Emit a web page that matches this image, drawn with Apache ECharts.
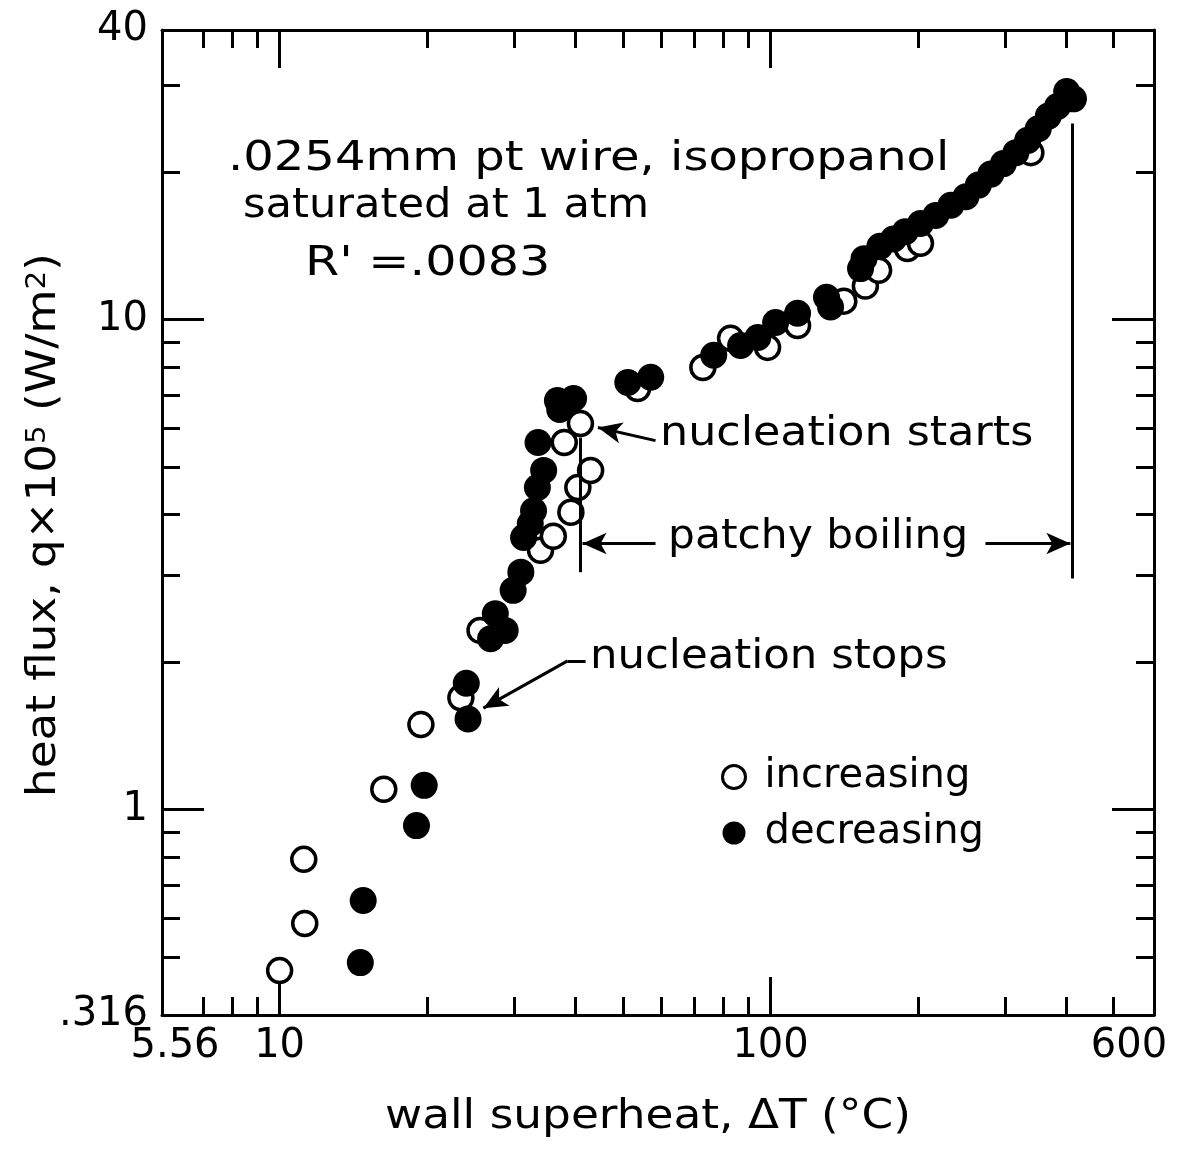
<!DOCTYPE html>
<html lang="en">
<head>
<meta charset="UTF-8">
<title>heat flux vs wall superheat</title>
<script src="https://cdn.jsdelivr.net/npm/echarts@6/dist/echarts.min.js"></script>
<style>html,body{margin:0;background:#fff;}</style>
</head>
<body>
<div id="main" style="width:1188px;height:1150px;"></div>
<script>
    // increasing heat flux (open circles)
    var xInc = [10.0, 11.25, 11.2, 16.3, 19.4, 23.4, 25.6, 34.0, 36.1, 39.2, 40.5, 43.0, 38.0, 41.0,
                53.6, 72.8, 82.9, 98.6, 113.5, 141, 156, 166, 190, 202, 339];
    var yInc = [0.469, 0.585, 0.791, 1.10, 1.49, 1.69, 2.32, 3.38, 3.61, 4.04, 4.54, 4.92, 5.61, 6.13,
                7.23, 7.98, 9.15, 8.77, 9.72, 10.9, 11.7, 12.6, 13.96, 14.3, 21.9];
    // decreasing heat flux (filled circles)
    var xDec = [14.6, 14.8, 19.0, 19.7, 24.2, 24.0, 26.9, 27.5, 28.8, 29.9, 31.0, 31.4, 32.4, 32.9,
                33.5, 34.5, 33.6, 36.8, 37.2, 39.7, 51.2, 57.0, 76.6, 86.9, 94.2, 102.4, 113.5, 130,
                132.5, 152.5, 155, 167, 178, 188, 202, 217, 233, 250, 265, 281, 298, 316, 334, 351,
                368, 384, 401, 414];
    var yDec = [0.487, 0.652, 0.927, 1.12, 1.53, 1.81, 2.23, 2.51, 2.32, 2.80, 3.05, 3.59, 3.83, 4.07,
                4.54, 4.92, 5.61, 6.83, 6.55, 6.90, 7.44, 7.62, 8.45, 8.85, 9.19, 9.86, 10.3, 11.1,
                10.6, 12.7, 13.3, 14.1, 14.6, 15.1, 15.7, 16.3, 17.1, 17.8, 18.8, 19.8, 20.8, 21.9,
                23.2, 24.5, 26.0, 27.2, 29.2, 28.2];

    // axis ends as drawn, and the tick labels printed on them
    var xTickValues = [5.76, 10, 100, 604];
    var xTickLabels = ['5.56', '10', '100', '600'];
    var yTickValues = [0.3807, 1, 10, 38.97];
    var yTickLabels = ['.316', '1', '10', '40'];
    // short ticks
    var xMinorTicks = [7, 8, 9, 20, 30, 40, 50, 60, 70, 80, 90, 200, 300, 400, 500];
    var yMinorTicks = [0.5, 0.6, 0.7, 0.8, 0.9, 2, 3, 4, 5, 6, 7, 8, 9, 20, 30];

    // guide lines and arrows [from, to, arrow at end]
    var guides = [
        [[41.0, 5.74], [41.0, 3.05], false],
        [[412, 25.1], [412, 2.96], false],
        [[58.3, 3.49], [41.4, 3.49], true],
        [[274, 3.49], [408, 3.49], true],
        [[58.3, 5.66], [44.5, 6.02], true],
        [[42.0, 2.01], [38.6, 2.01], false],
        [[38.6, 2.01], [26.0, 1.61], true]
    ];

    var black = '#000';
    var FONT = 'DejaVu Sans';

    function pairs(xs, ys) {
        var out = [];
        for (var i = 0; i < xs.length; i++) out.push([xs[i], ys[i]]);
        return out;
    }
    function pickLabel(v, values) {
        for (var i = 0; i < values.length; i++) {
            if (Math.abs(Math.log10(v) - Math.log10(values[i])) < 0.01) return i;
        }
        return -1;
    }

    function logAxis(values, pos, isX, showLabel) {
        var ax = {
            type: 'log', logBase: 10, position: pos,
            min: values[0], max: values[values.length - 1],
            axisLine: {show: true, onZero: false, lineStyle: {color: black, width: 3}},
            axisTick: {show: true, inside: true, length: isX ? 38 : 42, lineStyle: {color: black, width: 3}},
            splitLine: {show: false},
            axisLabel: {show: false}
        };
        if (showLabel && isX) {
            ax.axisLabel = {
                show: true, showMinLabel: true, showMaxLabel: true, margin: 12,
                color: black, fontFamily: FONT, fontSize: 40,
                formatter: function (v) {
                    var i = pickLabel(v, xTickValues);
                    if (i < 0) return '';
                    var key = i === 0 ? 'l' : (i === xTickValues.length - 1 ? 'r' : 'n');
                    return '{' + key + '|' + xTickLabels[i] + '}';
                },
                rich: {
                    l: {fontFamily: FONT, fontSize: 40, color: black, padding: [0, 0, 0, 26]},
                    r: {fontFamily: FONT, fontSize: 40, color: black, padding: [0, 50, 0, 0]},
                    n: {fontFamily: FONT, fontSize: 40, color: black}
                }
            };
        } else if (showLabel) {
            ax.axisLabel = {
                show: true, showMinLabel: true, showMaxLabel: true, margin: 14,
                color: black, fontFamily: FONT, fontSize: 40,
                formatter: function (v) {
                    var i = pickLabel(v, yTickValues);
                    return i < 0 ? '' : yTickLabels[i];
                }
            };
        }
        return ax;
    }

    // extra axis on the same side that only carries the short ticks
    function minorAxis(values, pos, ticks) {
        return {
            type: 'log', logBase: 10, position: pos,
            min: values[0], max: values[values.length - 1],
            axisLine: {show: false},
            axisTick: {show: true, inside: true, length: 18, customValues: ticks,
                       lineStyle: {color: black, width: 3}},
            splitLine: {show: false},
            axisLabel: {show: false}
        };
    }

    function text(str, x, y, sx, extra) {
        var el = {
            type: 'text', x: x, y: y, scaleX: sx, silent: true, z: 10,
            style: {text: str, fill: black, fontFamily: FONT, fontSize: 40,
                    align: 'left', verticalAlign: 'middle'}
        };
        if (extra) {
            for (var k in extra) {
                if (k === 'style') { for (var s in extra.style) el.style[s] = extra.style[s]; }
                else el[k] = extra[k];
            }
        }
        return el;
    }

    var guideData = guides.map(function (g) {
        return [
            {coord: g[0], symbol: 'none'},
            {coord: g[1], symbol: g[2] ? 'arrow' : 'none'}
        ];
    });

    var myChart = echarts.init(document.getElementById('main'));
    var option = {
        animation: false,
        backgroundColor: '#fff',
        grid: {left: 162, top: 30, right: 34, bottom: 135, containLabel: false},
        xAxis: [
            logAxis(xTickValues, 'bottom', true, true),
            logAxis(xTickValues, 'top', true, false),
            minorAxis(xTickValues, 'bottom', xMinorTicks),
            minorAxis(xTickValues, 'top', xMinorTicks)
        ],
        yAxis: [
            logAxis(yTickValues, 'left', false, true),
            logAxis(yTickValues, 'right', false, false),
            minorAxis(yTickValues, 'left', yMinorTicks),
            minorAxis(yTickValues, 'right', yMinorTicks)
        ],
        legend: {
            orient: 'vertical', left: 721, top: 757, itemGap: 16,
            itemWidth: 23, itemHeight: 23, padding: 0,
            selectedMode: false,
            textStyle: {color: black, fontFamily: FONT, fontSize: 40, padding: [0, 0, 0, 14]},
            data: [
                {name: 'increasing', icon: 'circle', itemStyle: {color: '#fff', borderColor: black, borderWidth: 3}},
                {name: 'decreasing', icon: 'circle', itemStyle: {color: black, borderWidth: 0}}
            ]
        },
        graphic: [
            text('.0254mm pt wire, isopropanol', 228, 160, 1.2),
            text('saturated at 1 atm', 243, 207, 1.08),
            text("R' =.0083", 305, 265, 1.23),
            text('nucleation starts', 660, 435, 1.11),
            text('patchy boiling', 668, 538, 1.06),
            text('nucleation stops', 590, 658, 1.085),
            text('wall superheat, ΔT (°C)', 648, 1118, 1.135, {style: {align: 'center'}}),
            text('heat flux, q×10{s|5} (W/m{s|2})', 45, 525, 1.13, {
                rotation: Math.PI / 2,
                style: {align: 'center', rich: {s: {fontFamily: FONT, fontSize: 26, fill: black, verticalAlign: 'top', padding: [0, 0, 14, 0]}}}
            })
        ],
        series: [
            {
                name: 'increasing', type: 'scatter', xAxisIndex: 0, yAxisIndex: 0,
                symbol: 'circle', symbolSize: 24,
                itemStyle: {color: '#fff', borderColor: black, borderWidth: 3.5, opacity: 1},
                emphasis: {disabled: true},
                z: 3,
                data: pairs(xInc, yInc),
                markLine: {
                    silent: true, symbolSize: [16, 24],
                    label: {show: false},
                    lineStyle: {color: black, width: 3, type: 'solid'},
                    emphasis: {disabled: true},
                    data: guideData
                }
            },
            {
                name: 'decreasing', type: 'scatter', xAxisIndex: 0, yAxisIndex: 0,
                symbol: 'circle', symbolSize: 27,
                itemStyle: {color: black, opacity: 1},
                emphasis: {disabled: true},
                z: 4,
                data: pairs(xDec, yDec)
            }
        ]
    };
    myChart.setOption(option);
</script>
</body>
</html>
